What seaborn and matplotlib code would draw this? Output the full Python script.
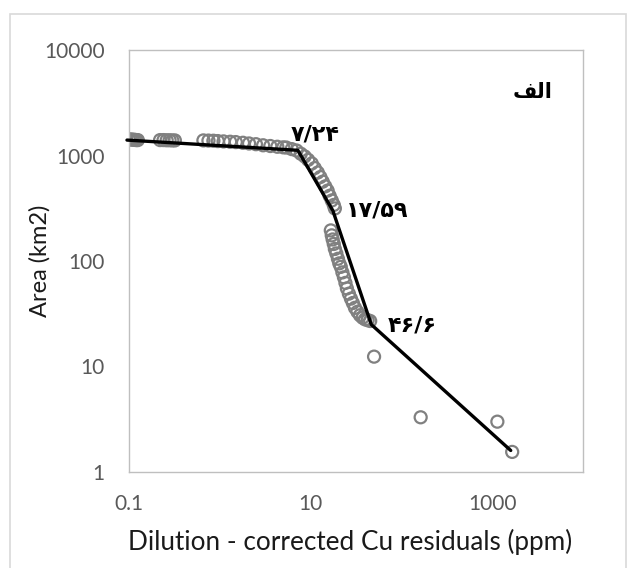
import matplotlib
matplotlib.use("Agg")
import matplotlib.pyplot as plt
import seaborn as sns
import pandas as pd
from matplotlib.patches import Rectangle
from matplotlib.ticker import FixedLocator, FixedFormatter, NullLocator

# ---- data ----
cu_residual = [0.10, 0.105, 0.11, 0.115, 0.12, 0.125,
               0.22, 0.24, 0.26, 0.28, 0.30, 0.32,
               0.66, 0.75, 0.85, 0.95, 1.1, 1.3, 1.5, 1.8, 2.1, 2.5, 3.0, 3.6, 4.3, 5.0,
               5.4, 6.2, 7.0, 7.8, 8.6, 9.4, 10.3, 11.1, 12.0, 12.8, 13.6, 14.5, 15.4, 16.2, 17.1, 18.0, 18.5,
               16.7, 17.1, 17.5, 18.0, 18.5, 19.2, 20.0, 20.7, 21.5, 22.4, 23.3, 24.2, 25.1,
               26.4, 27.8, 29.2, 30.8, 32.8, 35.0, 37.4, 39.8, 42.5, 45.3,
               50.0, 163.0, 1140.0, 1660.0]
area_km2 = [1420, 1420, 1410, 1410, 1400, 1400,
            1400, 1400, 1395, 1395, 1390, 1390,
            1390, 1385, 1380, 1370, 1360, 1350, 1340, 1320, 1300, 1280, 1250, 1230, 1210, 1195,
            1190, 1150, 1115, 1040, 980, 910, 840, 760, 690, 625, 565, 510, 465, 415, 375, 340, 315,
            195, 175, 160, 145, 130, 118, 105, 95, 88, 78, 70, 62, 55,
            49, 44, 40, 36, 33, 30.6, 29, 28, 27.5, 27,
            12.4, 3.3, 3.0, 1.55]

fit_x = [0.095, 7.24, 17.59, 46.6, 1600.0]
fit_y = [1400, 1120, 300, 25, 1.6]

break_labels = ["۷/۲۴", "۱۷/۵۹", "۴۶/۶"]
panel_label = "\uFED2\uFEDF\uFE8D"  # "الف" (presentation forms, visual order)

x_ticks = [0.1, 10, 1000]
x_ticklabels = ["0.1", "10", "1000"]
y_ticks = [1, 10, 100, 1000, 10000]
y_ticklabels = ["1", "10", "100", "1000", "10000"]

pts = pd.DataFrame({"x": cu_residual, "y": area_km2})
fit = pd.DataFrame({"x": fit_x, "y": fit_y})

sns.set_style("white")
plt.rcParams["font.family"] = ["Lato", "DejaVu Sans"]

fig = plt.figure(figsize=(6.31, 5.68), dpi=100)
ax = fig.add_axes([129 / 631, 1 - 472 / 568, 454 / 631, 422 / 568])

sns.scatterplot(data=pts, x="x", y="y", ax=ax, s=75, marker="o",
                facecolors="none", edgecolor="#808080", linewidth=1.6, zorder=2)
line = sns.lineplot(data=fit, x="x", y="y", ax=ax, sort=False, color="black",
                    linewidth=2.4, zorder=3, estimator=None)
for ln in ax.lines:
    ln.set_clip_on(False)

ax.set_xscale("log")
ax.set_yscale("log")
ax.set_xlim(0.1, 10000)
ax.set_ylim(1, 10000)

ax.xaxis.set_major_locator(FixedLocator(x_ticks))
ax.xaxis.set_major_formatter(FixedFormatter(x_ticklabels))
ax.yaxis.set_major_locator(FixedLocator(y_ticks))
ax.yaxis.set_major_formatter(FixedFormatter(y_ticklabels))
ax.xaxis.set_minor_locator(NullLocator())
ax.yaxis.set_minor_locator(NullLocator())

ax.tick_params(axis="x", which="major", direction="out", length=3.6, width=1,
               color="#bfbfbf", labelcolor="#595959", labelsize=15, pad=12)
ax.tick_params(axis="y", which="major", direction="out", length=6.5, width=1,
               color="#bfbfbf", labelcolor="#595959", labelsize=15, pad=11)
for sp in ax.spines.values():
    sp.set_color("#bfbfbf")
    sp.set_linewidth(1.0)

ax.set_xlabel("Dilution - corrected Cu residuals (ppm)", fontsize=18.8, color="#1a1a1a")
ax.set_ylabel("Area (km2)", fontsize=17, color="#1a1a1a")
ax.xaxis.set_label_coords((350 - 129) / 454, (472 - 529) / 422)
ax.yaxis.set_label_coords((51 - 129) / 454, 0.5)

# break-point annotations
ann_pos = [(11.2, 1585), (54.0, 300), (131.0, 24.7)]
for lab, (tx, ty) in zip(break_labels, ann_pos):
    ax.text(tx, ty, lab, fontsize=16, fontweight="bold", color="black",
            family=["DejaVu Sans"], ha="center", va="center", zorder=4)
ax.text(2770, 4000, panel_label, fontsize=15, fontweight="bold", color="black",
        family=["DejaVu Sans"], ha="center", va="center")

# outer chart-area border
fig.patches.append(Rectangle((0.016, -0.02), 0.976, 0.995, transform=fig.transFigure,
                             fill=False, edgecolor="#d9d9d9", linewidth=1.2))

fig.savefig("out.png", dpi=100, facecolor="white")
